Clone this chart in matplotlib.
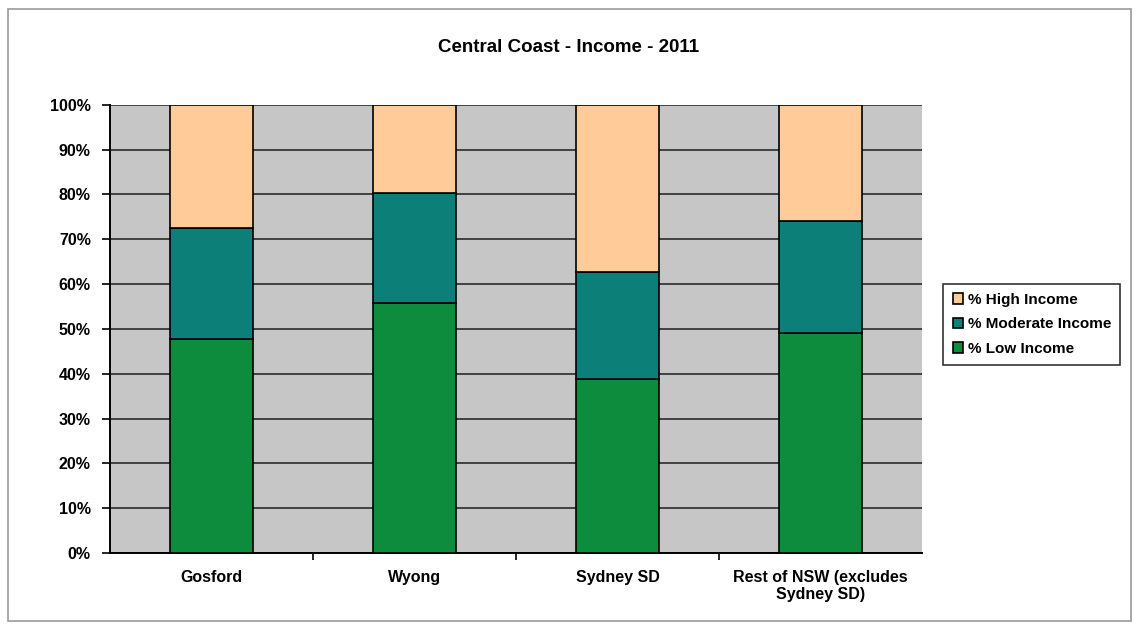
import numpy as np
import matplotlib.pyplot as plt
from matplotlib.patches import Rectangle

categories = ['Gosford', 'Wyong', 'Sydney SD', 'Rest of NSW (excludes\nSydney SD)']
low_income = [47.7, 55.7, 38.8, 49.0]
moderate_income = [24.9, 24.5, 23.8, 25.0]
high_income = [27.4, 19.8, 37.4, 26.0]

plt.rcParams['font.family'] = ['Liberation Sans', 'DejaVu Sans']
plt.rcParams['font.weight'] = 'bold'

fig = plt.figure(figsize=(11.37, 6.27), dpi=100)
ax = fig.add_axes([0.097, 0.118, 0.714, 0.715])

# thin frame around the whole chart
fig.patches.append(Rectangle((0.007, 0.01), 0.988, 0.975, transform=fig.transFigure,
                             fill=False, edgecolor='#9a9a9a', linewidth=1.2))

x = np.arange(len(categories))
w = 0.41
low = np.array(low_income)
mod = np.array(moderate_income)
high = np.array(high_income)

ax.bar(x, low, w, color='#0c8c3c', edgecolor='black', linewidth=1.2,
       label='% Low Income', zorder=3)
ax.bar(x, mod, w, bottom=low, color='#0c7f78', edgecolor='black', linewidth=1.2,
       label='% Moderate Income', zorder=3)
ax.bar(x, high, w, bottom=low + mod, color='#ffcc99', edgecolor='black', linewidth=1.2,
       label='% High Income', zorder=3)

ax.set_facecolor('#c6c6c6')
ax.set_xlim(-0.5, 3.5)
ax.set_ylim(0, 100)
ax.set_yticks(np.arange(0, 101, 10))
ax.set_yticklabels([f'{v}%' for v in range(0, 101, 10)], fontsize=11.5, fontweight='bold')
ax.yaxis.grid(True, color='#2a2a2a', linewidth=1.2, zorder=0)
ax.tick_params(axis='y', length=6, width=1.2, direction='out', pad=8)

ax.set_xticks(x)
ax.set_xticklabels(categories, fontsize=11.5, fontweight='bold')
ax.set_xticks(np.arange(0.5, 3.5, 1), minor=True)
ax.tick_params(axis='x', which='major', length=0, pad=12)
ax.tick_params(axis='x', which='minor', length=5, width=1.2, direction='out')

for s in ['top', 'right']:
    ax.spines[s].set_visible(False)
for s in ['left', 'bottom']:
    ax.spines[s].set_color('black')
    ax.spines[s].set_linewidth(1.4)

fig.text(0.50, 0.925, 'Central Coast - Income - 2011', ha='center', va='center',
         fontsize=13.5, fontweight='bold')

h, l = ax.get_legend_handles_labels()
leg = fig.legend(h[::-1], l[::-1], loc='upper left', bbox_to_anchor=(0.823, 0.56),
                 frameon=True, fancybox=False, edgecolor='black', fontsize=11,
                 handlelength=0.7, handleheight=0.7, handletextpad=0.3,
                 borderpad=0.6, labelspacing=0.7)
leg.get_frame().set_linewidth(1.2)
for t in leg.get_texts():
    t.set_fontweight('bold')

fig.savefig('out.png', dpi=100)
